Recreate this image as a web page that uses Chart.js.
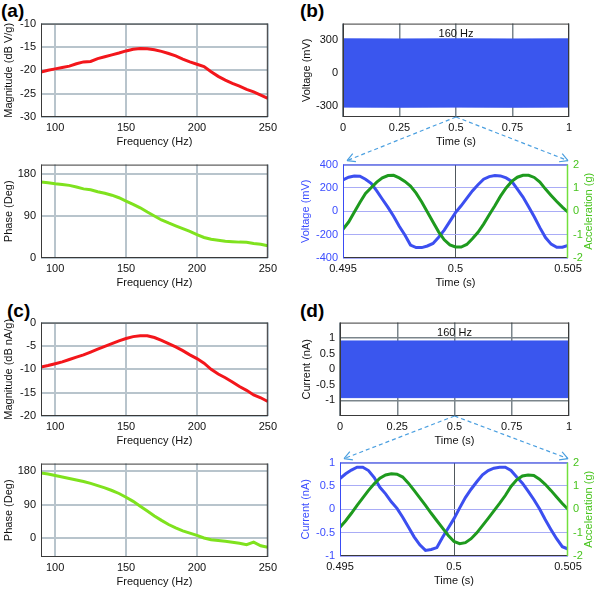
<!DOCTYPE html>
<html>
<head>
<meta charset="utf-8">
<script src="https://cdn.jsdelivr.net/npm/chart.js@4.4.1/dist/chart.umd.min.js"></script>
<style>
	body { margin: 0; background: #fff; }
	#wrap { position: relative; width: 597px; height: 591px; overflow: hidden; font-family: 'Liberation Sans', Arial, sans-serif; }
	#wrap canvas { position: absolute; }
	.tag { position: absolute; font-weight: bold; font-size: 19px; line-height: 19px; color: #000; }
</style>
</head>
<body>
<div id="wrap">
	<div class="tag" style="left:1px; top:1px;">(a)</div>
	<div class="tag" style="left:300px; top:1px;">(b)</div>
	<div class="tag" style="left:7px; top:301px;">(c)</div>
	<div class="tag" style="left:300px; top:301px;">(d)</div>
</div>
<script>
// ================================ [ Data ] ================================

// (a) / (c) frequency sweep
const freq = [90, 95, 100, 105, 110, 115, 120, 125, 130, 135, 140, 145, 150, 155, 160, 165, 170,
	175, 180, 185, 190, 195, 200, 205, 210, 215, 220, 225, 230, 235, 240, 245, 250];
const magA = [-20.4, -20.0, -19.7, -19.4, -19.1, -18.6, -18.2, -18.1, -17.5, -17.1, -16.7, -16.3, -15.85,
	-15.5, -15.35, -15.4, -15.6, -15.95, -16.4, -16.9, -17.6, -18.2, -18.7, -19.2, -20.3, -21.3, -22.1,
	-22.8, -23.4, -24.1, -24.6, -25.3, -26.0];
const phaseA = [163, 161, 159, 157.5, 155.5, 152, 148, 146, 142, 138.5, 134.5, 129, 122, 115, 107.5, 98.5,
	90, 81.5, 75, 69, 63, 57, 50, 44, 40, 38, 36, 35, 34, 33.5, 31, 29.5, 26];
const magC = [-9.5, -9.2, -8.8, -8.4, -7.9, -7.4, -6.9, -6.3, -5.7, -5.1, -4.5, -3.9, -3.4, -3.0, -2.8,
	-2.8, -3.2, -3.8, -4.5, -5.2, -6.0, -6.9, -7.7, -8.7, -10.0, -11.0, -11.8, -12.7, -13.7, -14.5,
	-15.5, -16.1, -16.9];
const phaseC = [175, 172, 168, 164, 160, 156, 152, 147, 141, 135, 128, 120, 110, 99, 86, 73, 60, 48, 37,
	28, 20, 14, 8, 1, -4, -6, -8, -10.6, -13, -17, -10, -20, -24];

// (b) / (d) 1 s record at 160 Hz (envelope of the dense waveform)
const tFull = [0, 0.25, 0.5, 0.75, 1];
const voltHi = [311, 310, 311, 310, 311];
const voltLo = [-310, -311, -310, -311, -310];
const currHi = [0.91, 0.91, 0.91, 0.91, 0.91];
const currLo = [-0.91, -0.91, -0.91, -0.91, -0.91];
const zoomCenter = 0.5;

// (b) / (d) zoomed window 0.495 - 0.505 s
const tZoom = [0.495, 0.49525, 0.4955, 0.49575, 0.496, 0.49625, 0.4965, 0.49675, 0.497, 0.49725, 0.4975,
	0.49775, 0.498, 0.49825, 0.4985, 0.49875, 0.499, 0.49925, 0.4995, 0.49975, 0.5, 0.50025, 0.5005,
	0.50075, 0.501, 0.50125, 0.5015, 0.50175, 0.502, 0.50225, 0.5025, 0.50275, 0.503, 0.50325, 0.5035,
	0.50375, 0.504, 0.50425, 0.5045, 0.50475, 0.505];
const voltZ = [269, 292, 303, 300, 275, 239, 175, 103, 33, -42, -128, -203, -289, -311, -311, -297, -275,
	-222, -161, -86, -11, 47, 111, 175, 228, 275, 297, 306, 303, 286, 256, 189, 122, 39, -47, -140, -225,
	-281, -308, -308, -292];
const accB = [-0.77, -0.46, -0.04, 0.38, 0.76, 1.01, 1.25, 1.43, 1.53, 1.54, 1.43, 1.28, 1.08, 0.78, 0.40,
	-0.03, -0.46, -0.88, -1.22, -1.44, -1.53, -1.53, -1.42, -1.18, -0.90, -0.55, -0.15, 0.24, 0.65, 1.00,
	1.28, 1.46, 1.54, 1.54, 1.45, 1.25, 0.95, 0.68, 0.42, 0.18, -0.04];
const currZ = [0.66, 0.76, 0.84, 0.90, 0.90, 0.83, 0.68, 0.47, 0.33, 0.16, 0.02, -0.17, -0.38, -0.59,
	-0.76, -0.88, -0.86, -0.82, -0.60, -0.40, -0.20, 0.03, 0.25, 0.43, 0.59, 0.74, 0.83, 0.88, 0.90, 0.90,
	0.83, 0.69, 0.56, 0.39, 0.21, 0.01, -0.22, -0.43, -0.63, -0.80, -0.85];
const accD = [-0.77, -0.49, -0.17, 0.17, 0.49, 0.81, 1.09, 1.33, 1.47, 1.52, 1.50, 1.38, 1.12, 0.81, 0.49,
	0.17, -0.17, -0.49, -0.81, -1.12, -1.38, -1.47, -1.43, -1.26, -1.01, -0.70, -0.39, -0.07, 0.25, 0.59,
	0.98, 1.26, 1.43, 1.47, 1.45, 1.29, 1.07, 0.81, 0.53, 0.25, 0.00];

// tick labels
const freqTicks = [100, 150, 200, 250];
const magTicksA = [-30, -25, -20, -15, -10];
const magTicksC = [-20, -15, -10, -5, 0];
const phaseTicks = [0, 90, 180];
const tTicks = [0, 0.25, 0.5, 0.75, 1];
const tZoomTicks = [0.495, 0.5, 0.505];
const voltTicks = [-300, 0, 300];
const voltZTicks = [-400, -200, 0, 200, 400];
const currTicks = [-1, -0.5, 0, 0.5, 1];
const accTicks = [-2, -1, 0, 1, 2];

// ================================ [ Style ] ================================
const FONT = "'Liberation Sans', Arial, sans-serif";
const INK = '#111';
const RED = '#f3161b';
const LIME = '#7fe21e';
const BLUE = '#3c4ff0';
const BLUE_TXT = '#3b4cff';
const GREEN = '#1e9a1e';
const GREEN_TXT = '#48c41e';
const BAND = '#3a56ee';
const ARROW = '#4a9fe0';
const GRID_FR = '#b8c4cc';
const GRID_T = '#7b858b';
const GRID_Z = '#a9acf6';

Chart.defaults.font.family = FONT;
Chart.defaults.font.size = 11;
Chart.defaults.color = INK;

const PT = 10;   // room above the plot box
const XH = 33;   // x axis band (labels + title)
const wrap = document.getElementById('wrap');

const fixTicks = (vals) => (scale) => { scale.ticks = vals.map(v => ({ value: v })); };
const label = (v) => String(v);
const pts = (xs, ys) => xs.map((x, i) => ({ x, y: ys[i] }));

const curve = (xs, ys, color, axis) => ({
	data: pts(xs, ys), borderColor: color, borderWidth: 3, pointRadius: 0,
	fill: false, tension: 0, yAxisID: axis || 'y'
});

const band = (xs, hi, lo) => ([
	{ data: pts(xs, hi), borderColor: BAND, borderWidth: 1, pointRadius: 0, fill: false },
	{ data: pts(xs, lo), borderColor: BAND, borderWidth: 1, pointRadius: 0, backgroundColor: BAND, fill: '-1' }
]);

// box frame, inner note, rotated y titles
const extras = {
	id: 'extras',
	afterDatasetsDraw(chart, args, opts) {
		const { ctx, chartArea: ca } = chart;
		const c = opts.box || {};
		const side = (col, w, x1, y1, x2, y2) => {
			ctx.strokeStyle = col; ctx.lineWidth = w;
			ctx.beginPath(); ctx.moveTo(x1, y1); ctx.lineTo(x2, y2); ctx.stroke();
		};
		ctx.save();
		side(c.top || '#3a3a3a', 1, ca.left, ca.top + 0.5, ca.right, ca.top + 0.5);
		side(c.bottom || '#3a3a3a', 1, ca.left, ca.bottom - 0.5, ca.right, ca.bottom - 0.5);
		side(c.left || '#3a3a3a', 1, ca.left + 0.5, ca.top, ca.left + 0.5, ca.bottom);
		side(c.right || '#3a3a3a', c.rightWidth || 1, ca.right - 0.5, ca.top, ca.right - 0.5, ca.bottom);

		ctx.font = '11px ' + FONT;
		ctx.textAlign = 'center';
		ctx.textBaseline = 'middle';
		if (opts.note) {
			ctx.fillStyle = INK;
			ctx.fillText(opts.note.text, chart.scales.x.getPixelForValue(opts.note.at), ca.top + 10);
		}
		const vtext = (t, x, col) => {
			ctx.save();
			ctx.translate(x, (ca.top + ca.bottom) / 2);
			ctx.rotate(-Math.PI / 2);
			ctx.fillStyle = col;
			ctx.fillText(t, 0, 0);
			ctx.restore();
		};
		if (opts.yTitle) vtext(opts.yTitle.text, opts.yTitle.x, opts.yTitle.color || INK);
		if (opts.y2Title) vtext(opts.y2Title.text, chart.width - 8, opts.y2Title.color);
		ctx.restore();
	}
};

// one panel = one canvas, plot box given in page pixels [left, top, right, bottom]
const panel = (p) => {
	const [bl, bt, br, bb] = p.box;
	const hasRight = !!p.y2;
	const w = hasRight ? 597 - p.left : br + 12 - p.left;
	const h = PT + (bb - bt) + XH;
	const cv = document.createElement('canvas');
	cv.width = w;
	cv.height = h;
	cv.style.left = p.left + 'px';
	cv.style.top = (bt - PT) + 'px';
	wrap.appendChild(cv);

	const scales = {
		x: {
			type: 'linear', bounds: 'data', min: p.x.min, max: p.x.max,
			afterBuildTicks: fixTicks(p.x.ticks),
			afterFit: (s) => { s.height = XH; },
			ticks: { callback: label, padding: 4, maxRotation: 0, autoSkip: false, color: INK },
			grid: { color: p.x.grid, lineWidth: p.gridWidth, drawTicks: false },
			border: { display: false },
			title: { display: true, text: p.x.title, color: INK, padding: { top: 0, bottom: 1 } }
		},
		y: {
			type: 'linear', position: 'left', bounds: 'data', min: p.y.min, max: p.y.max,
			afterBuildTicks: fixTicks(p.y.ticks),
			afterFit: (s) => { s.width = bl - p.left; },
			ticks: { callback: label, padding: 5, autoSkip: false, color: p.y.color || INK },
			grid: { color: p.y.grid, lineWidth: p.gridWidth, drawTicks: false },
			border: { display: false }
		}
	};
	if (hasRight) {
		scales.y2 = {
			type: 'linear', position: 'right', bounds: 'data', min: p.y2.min, max: p.y2.max,
			afterBuildTicks: fixTicks(p.y2.ticks),
			afterFit: (s) => { s.width = 597 - br; },
			ticks: { callback: label, padding: 5, autoSkip: false, color: GREEN_TXT },
			grid: { drawOnChartArea: false, drawTicks: false },
			border: { display: false }
		};
	}

	const chart = new Chart(cv, {
		type: 'line',
		data: { datasets: p.datasets },
		options: {
			responsive: false,
			animation: false,
			devicePixelRatio: 1,
			layout: { padding: { top: PT, right: hasRight ? 0 : 12, left: 0, bottom: 0 } },
			plugins: {
				legend: { display: false },
				tooltip: { enabled: false },
				extras: {
					box: p.boxColors,
					note: p.note,
					yTitle: p.yTitle,
					y2Title: p.y2Title
				}
			},
			scales
		},
		plugins: [extras]
	});
	chart.ox = p.left;
	chart.oy = bt - PT;
	return chart;
};

// ================================ [ Panels ] ================================
const freqAxis = { min: 90, max: 250, ticks: freqTicks, title: 'Frequency (Hz)', grid: GRID_FR };
const zoomGrid = (ctx) => (ctx.tick && ctx.tick.value === zoomCenter) ? '#50585e' : 'rgba(0,0,0,0)';

panel({
	left: 0, box: [41, 22, 269, 117], gridWidth: 2,
	x: freqAxis,
	y: { min: -30, max: -10, ticks: magTicksA, grid: GRID_FR },
	yTitle: { text: 'Magnitude (dB V/g)', x: 9 },
	datasets: [curve(freq, magA, RED)]
});

panel({
	left: 0, box: [41, 163, 269, 258], gridWidth: 2,
	x: freqAxis,
	y: { min: 0, max: 200, ticks: phaseTicks, grid: GRID_FR },
	yTitle: { text: 'Phase (Deg)', x: 9 },
	datasets: [curve(freq, phaseA, LIME)]
});

panel({
	left: 0, box: [41, 321, 269, 416], gridWidth: 2,
	x: freqAxis,
	y: { min: -20, max: 0, ticks: magTicksC, grid: GRID_FR },
	yTitle: { text: 'Magnitude (dB nA/g)', x: 9 },
	datasets: [curve(freq, magC, RED)]
});

panel({
	left: 0, box: [41, 462, 269, 557], gridWidth: 2,
	x: freqAxis,
	y: { min: -50, max: 200, ticks: phaseTicks, grid: GRID_FR },
	yTitle: { text: 'Phase (Deg)', x: 9 },
	datasets: [curve(freq, phaseC, LIME)]
});

const chartB1 = panel({
	left: 300, box: [343, 22, 569, 117], gridWidth: 1.5,
	x: { min: 0, max: 1, ticks: tTicks, title: 'Time (s)', grid: GRID_T },
	y: { min: -400, max: 450, ticks: voltTicks, grid: GRID_T },
	yTitle: { text: 'Voltage (mV)', x: 6.5 },
	note: { text: '160 Hz', at: zoomCenter },
	datasets: band(tFull, voltHi, voltLo)
});

const chartB2 = panel({
	left: 300, box: [343, 163, 568, 258], gridWidth: 1,
	x: { min: 0.495, max: 0.505, ticks: tZoomTicks, title: 'Time (s)', grid: zoomGrid },
	y: { min: -400, max: 400, ticks: voltZTicks, grid: GRID_Z, color: BLUE_TXT },
	y2: { min: -2, max: 2, ticks: accTicks },
	yTitle: { text: 'Voltage (mV)', x: 5.5, color: BLUE_TXT },
	y2Title: { text: 'Acceleration (g)', color: GREEN_TXT },
	boxColors: { top: '#3347d8', left: '#3a4cf5', right: '#72e03c', rightWidth: 1.5 },
	datasets: [curve(tZoom, accB, GREEN, 'y2'), curve(tZoom, voltZ, BLUE)]
});

const chartD1 = panel({
	left: 300, box: [340, 321, 569, 416], gridWidth: 1.5,
	x: { min: 0, max: 1, ticks: tTicks, title: 'Time (s)', grid: GRID_T },
	y: { min: -1.5, max: 1.5, ticks: currTicks, grid: GRID_T },
	yTitle: { text: 'Current (nA)', x: 6.5 },
	note: { text: '160 Hz', at: zoomCenter },
	datasets: band(tFull, currHi, currLo)
});

const chartD2 = panel({
	left: 300, box: [340, 461, 568, 556], gridWidth: 1,
	x: { min: 0.495, max: 0.505, ticks: tZoomTicks, title: 'Time (s)', grid: zoomGrid },
	y: { min: -1, max: 1, ticks: currTicks, grid: GRID_Z, color: BLUE_TXT },
	y2: { min: -2, max: 2, ticks: accTicks },
	yTitle: { text: 'Current (nA)', x: 5.5, color: BLUE_TXT },
	y2Title: { text: 'Acceleration (g)', color: GREEN_TXT },
	boxColors: { top: '#3347d8', left: '#3a4cf5', right: '#72e03c', rightWidth: 1.5 },
	datasets: [curve(tZoom, accD, GREEN, 'y2'), curve(tZoom, currZ, BLUE)]
});

// ================================ [ Zoom arrows ] ================================
const overlay = document.createElement('canvas');
overlay.width = 597;
overlay.height = 591;
overlay.style.left = '0px';
overlay.style.top = '0px';
wrap.appendChild(overlay);

const zoomArrows = (ctx, top, bottom) => {
	const ax = top.ox + top.scales.x.getPixelForValue(zoomCenter);
	const ay = top.oy + top.chartArea.bottom;
	const ca = bottom.chartArea;
	const ends = [
		[bottom.ox + ca.left + 4, bottom.oy + ca.top - 4],
		[bottom.ox + ca.right, bottom.oy + ca.top - 4]
	];
	ctx.strokeStyle = ARROW;
	ctx.lineWidth = 1.2;
	ends.forEach(([ex, ey]) => {
		ctx.setLineDash([4, 3]);
		ctx.beginPath();
		ctx.moveTo(ax, ay);
		ctx.lineTo(ex, ey);
		ctx.stroke();
		const ang = Math.atan2(ey - ay, ex - ax);
		ctx.setLineDash([]);
		ctx.beginPath();
		[-0.5, 0.5].forEach(d => {
			ctx.moveTo(ex, ey);
			ctx.lineTo(ex - 9 * Math.cos(ang + d), ey - 9 * Math.sin(ang + d));
		});
		ctx.stroke();
	});
};

const octx = overlay.getContext('2d');
zoomArrows(octx, chartB1, chartB2);
zoomArrows(octx, chartD1, chartD2);
</script>
</body>
</html>
